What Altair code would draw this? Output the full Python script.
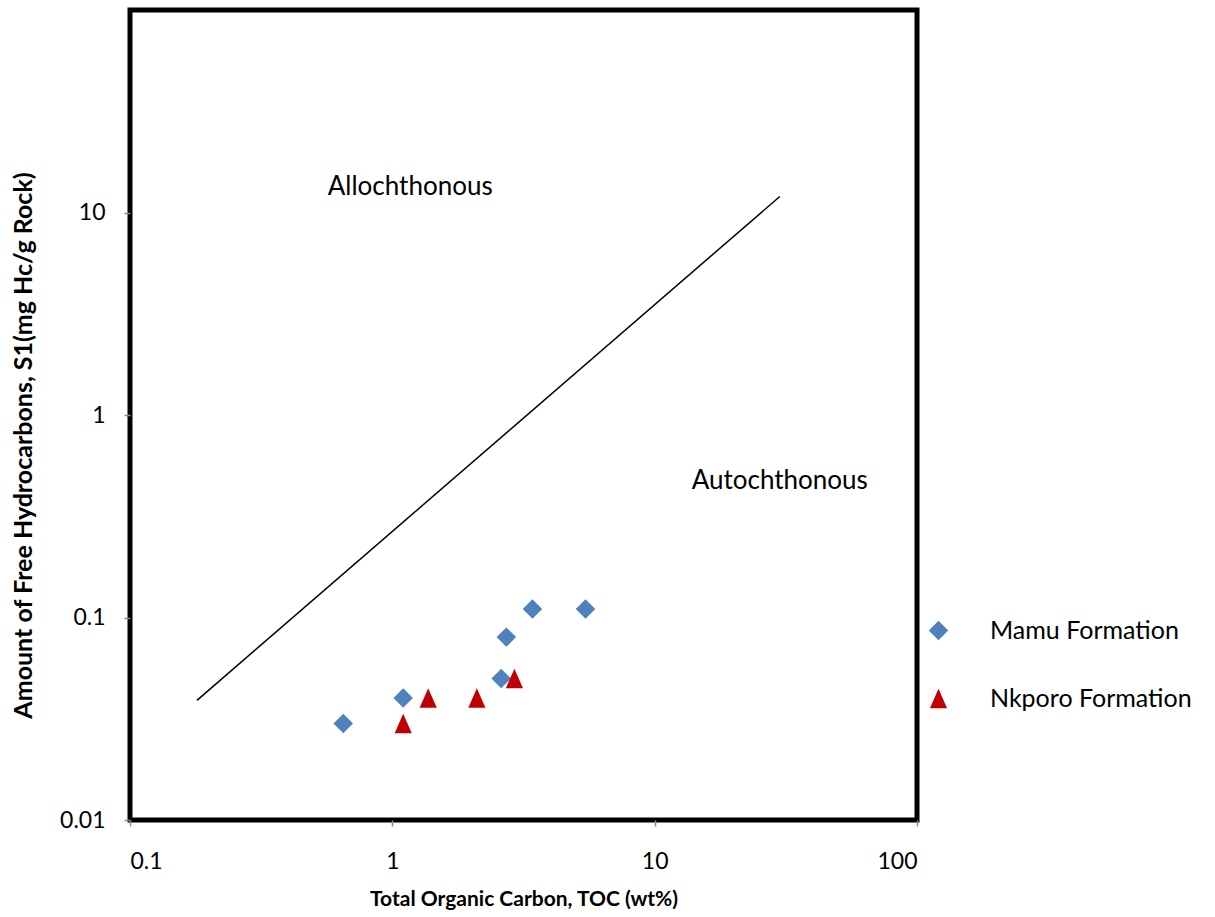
import altair as alt
import pandas as pd

# Rock-Eval screening data: TOC (wt%) vs. free hydrocarbons S1 (mg HC/g rock)
mamu_toc = [0.65, 1.1, 2.6, 2.72, 3.42, 5.45]
mamu_s1 = [0.03, 0.04, 0.05, 0.08, 0.11, 0.11]
nkporo_toc = [1.1, 1.37, 2.1, 2.92]
nkporo_s1 = [0.03, 0.04, 0.04, 0.05]

# boundary between allochthonous and autochthonous hydrocarbons
line_toc = [0.18, 30]
line_s1 = [0.039, 12]

formations = ["Mamu Formation", "Nkporo Formation"]

points = pd.DataFrame({
    "toc": mamu_toc + nkporo_toc,
    "s1": mamu_s1 + nkporo_s1,
    "formation": [formations[0]] * len(mamu_toc) + [formations[1]] * len(nkporo_toc),
})
boundary = pd.DataFrame({"toc": line_toc, "s1": line_s1})
regions = pd.DataFrame({
    "toc": [1.17, 30.0],
    "s1": [13.3, 0.47],
    "label": ["Allochthonous", "Autochthonous"],
})

FONT = "Lato"
# slightly taller-than-wide marker triangle
TRIANGLE = "M0,-1L0.88,1L-0.88,1Z"

x_scale = alt.Scale(type="log", domain=[0.1, 100], nice=False)
y_scale = alt.Scale(type="log", domain=[0.01, 100], nice=False)

x_axis = alt.Axis(
    title="Total Organic Carbon, TOC (wt%)",
    values=[0.1, 1, 10, 100], format="~g",
    labelPadding=24, titlePadding=15, titleFontSize=21,
)
y_axis = alt.Axis(
    title="Amount of Free Hydrocarbons, S1(mg Hc/g Rock)",
    values=[0.01, 0.1, 1, 10], format="~g",
    labelPadding=19, titlePadding=23, titleFontSize=25, titleY=435,
)

line = alt.Chart(boundary).mark_line(color="black", strokeWidth=1.5).encode(
    x=alt.X("toc:Q", scale=x_scale, axis=x_axis),
    y=alt.Y("s1:Q", scale=y_scale, axis=y_axis),
)

pts = alt.Chart(points).mark_point(filled=True, opacity=1, size=380).encode(
    x=alt.X("toc:Q", scale=x_scale),
    y=alt.Y("s1:Q", scale=y_scale),
    color=alt.Color(
        "formation:N",
        scale=alt.Scale(domain=formations, range=["#4F81BD", "#C00000"]),
        legend=alt.Legend(
            title=None, orient="none", legendX=796, legendY=608,
            labelFontSize=25, labelFont=FONT, labelColor="black", labelLimit=400,
            labelOffset=39, rowPadding=42, symbolSize=380, padding=0,
        ),
    ),
    shape=alt.Shape(
        "formation:N",
        scale=alt.Scale(domain=formations, range=["diamond", TRIANGLE]),
    ),
)

labels = alt.Chart(regions).mark_text(fontSize=26, font=FONT, color="black").encode(
    x=alt.X("toc:Q", scale=x_scale),
    y=alt.Y("s1:Q", scale=y_scale),
    text="label:N",
)

chart = (
    alt.layer(line, pts, labels)
    .properties(
        width=787, height=810,
        autosize=alt.AutoSizeParams(type="none"),
        padding={"left": 130, "top": 10, "right": 298, "bottom": 97},
    )
    .configure_view(stroke="black", strokeWidth=5)
    .configure_axis(
        grid=False, domain=False,
        tickColor="#888888", tickSize=6, tickWidth=1.5,
        labelFont=FONT, labelFontSize=23, labelColor="black",
        titleFont=FONT, titleFontWeight="bold", titleColor="black",
    )
    .configure_legend(symbolStrokeWidth=0)
)

chart.save("out.html", embed_options={"renderer": "svg", "actions": False})
